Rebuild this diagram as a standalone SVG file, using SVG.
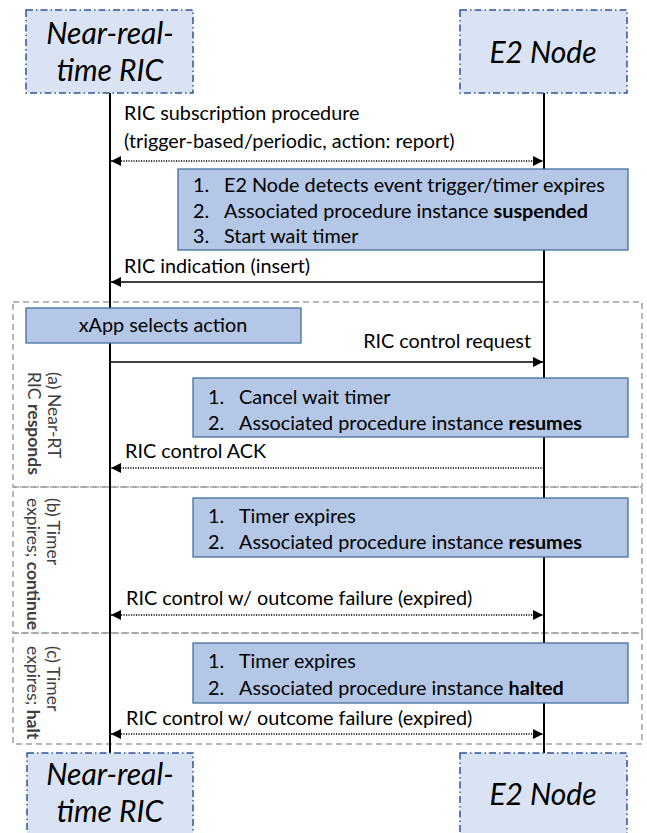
<svg xmlns="http://www.w3.org/2000/svg" width="647" height="833" viewBox="0 0 647 833">
<style>
.node rect{fill:#dae3f3;stroke:#2f5597;stroke-width:1.5;stroke-dasharray:7 3 1.5 3}
.node text{font-family:Lato,"Open Sans",sans-serif;font-style:italic;font-size:30px;fill:#000;text-anchor:middle}
.proc rect{fill:#b4c7e7;stroke:#41719c;stroke-width:1.3}
.t{font-family:Lato,"Open Sans",sans-serif;font-size:19.8px;fill:#000}
.b{font-weight:bold}
.region{fill:none;stroke:#a0a0a0;stroke-width:1.5;stroke-dasharray:6 4}
.vl{font-family:Lato,"Open Sans",sans-serif;font-size:17.5px;fill:#404040}
.life{stroke:#000;stroke-width:2}
.solid{stroke:#000;stroke-width:1.6;fill:none}
.dot{stroke:#000;stroke-width:1.5;stroke-dasharray:1.2 1.3;fill:none}
</style>
<defs>
<marker id="ah" viewBox="0 0 10 10" refX="10" refY="5" markerWidth="10" markerHeight="10" markerUnits="userSpaceOnUse" orient="auto-start-reverse">
<path d="M0,0 L10,5 L0,10 Z" fill="#000"/>
</marker>
</defs>
<rect width="647" height="833" fill="#fff"/>
<g id="regions">
<rect class="region" x="13" y="302" width="629" height="185"/>
<rect class="region" x="13" y="487" width="629" height="146"/>
<rect class="region" x="13" y="633" width="629" height="111"/>
</g>
<g id="lifelines">
<line class="life" x1="110" y1="93" x2="110" y2="753"/>
<line class="life" x1="544" y1="93" x2="544" y2="753"/>
</g>
<g id="ric-top" class="node">
<rect x="26" y="10" width="167" height="83"/>
<text x="110" y="44">Near-real-</text>
<text x="110" y="81">time RIC</text>
</g>
<g id="e2-top" class="node">
<rect x="460" y="10" width="167" height="83"/>
<text x="543" y="63">E2 Node</text>
</g>
<g id="ric-bottom" class="node">
<rect x="27" y="753" width="166" height="90"/>
<text x="110" y="785">Near-real-</text>
<text x="110" y="822">time RIC</text>
</g>
<g id="e2-bottom" class="node">
<rect x="460" y="753" width="167" height="90"/>
<text x="543" y="805">E2 Node</text>
</g>
<g id="connectors">
<line class="dot" x1="111" y1="161" x2="543" y2="161" marker-start="url(#ah)" marker-end="url(#ah)"/>
<line class="solid" x1="544" y1="282" x2="111" y2="282" marker-end="url(#ah)"/>
<line class="solid" x1="110" y1="362" x2="543" y2="362" marker-end="url(#ah)"/>
<line class="dot" x1="544" y1="468" x2="111" y2="468" marker-end="url(#ah)"/>
<line class="dot" x1="111" y1="615" x2="543" y2="615" marker-start="url(#ah)" marker-end="url(#ah)"/>
<line class="dot" x1="111" y1="734" x2="543" y2="734" marker-start="url(#ah)" marker-end="url(#ah)"/>
</g>
<g id="labels">
<text class="t" x="124" y="120">RIC subscription procedure</text>
<text class="t" x="124" y="148">(trigger-based/periodic, action: report)</text>
<text class="t" x="124" y="273">RIC indication (insert)</text>
<text class="t" x="531" y="348" text-anchor="end">RIC control request</text>
<text class="t" x="125" y="458">RIC control ACK</text>
<text class="t" x="126" y="605">RIC control w/ outcome failure (expired)</text>
<text class="t" x="126" y="725">RIC control w/ outcome failure (expired)</text>
</g>
<g id="proc-detect" class="proc">
<rect x="178" y="169" width="450" height="81"/>
<text class="t" x="193" y="192">1.</text><text class="t" x="224" y="192">E2 Node detects event trigger/timer expires</text>
<text class="t" x="193" y="218">2.</text><text class="t" x="224" y="218">Associated procedure instance <tspan class="b">suspended</tspan></text>
<text class="t" x="193" y="243">3.</text><text class="t" x="224" y="243">Start wait timer</text>
</g>
<g id="xapp" class="proc">
<rect x="26" y="308" width="275" height="35"/>
<text class="t" x="163" y="332" text-anchor="middle">xApp selects action</text>
</g>
<g id="proc-cancel" class="proc">
<rect x="193" y="378" width="435" height="59"/>
<text class="t" x="208" y="404">1.</text><text class="t" x="239" y="404">Cancel wait timer</text>
<text class="t" x="208" y="430">2.</text><text class="t" x="239" y="430">Associated procedure instance <tspan class="b">resumes</tspan></text>
</g>
<g id="proc-continue" class="proc">
<rect x="193" y="498" width="435" height="59"/>
<text class="t" x="208" y="523">1.</text><text class="t" x="239" y="523">Timer expires</text>
<text class="t" x="208" y="549">2.</text><text class="t" x="239" y="549">Associated procedure instance <tspan class="b">resumes</tspan></text>
</g>
<g id="proc-halt" class="proc">
<rect x="193" y="643" width="435" height="60"/>
<text class="t" x="208" y="668">1.</text><text class="t" x="239" y="668">Timer expires</text>
<text class="t" x="208" y="695">2.</text><text class="t" x="239" y="695">Associated procedure instance <tspan class="b">halted</tspan></text>
</g>
<g id="region-labels">
<text class="vl" transform="translate(48,372) rotate(90)"><tspan x="0" y="0">(a) Near-RT</tspan><tspan x="0" y="20">RIC <tspan class="b">responds</tspan></tspan></text>
<text class="vl" transform="translate(47,498) rotate(90)"><tspan x="0" y="0">(b) Timer</tspan><tspan x="0" y="20">expires; <tspan class="b">continue</tspan></tspan></text>
<text class="vl" transform="translate(47,646) rotate(90)"><tspan x="0" y="0">(c) Timer</tspan><tspan x="0" y="20">expires; <tspan class="b">halt</tspan></tspan></text>
</g>
</svg>
